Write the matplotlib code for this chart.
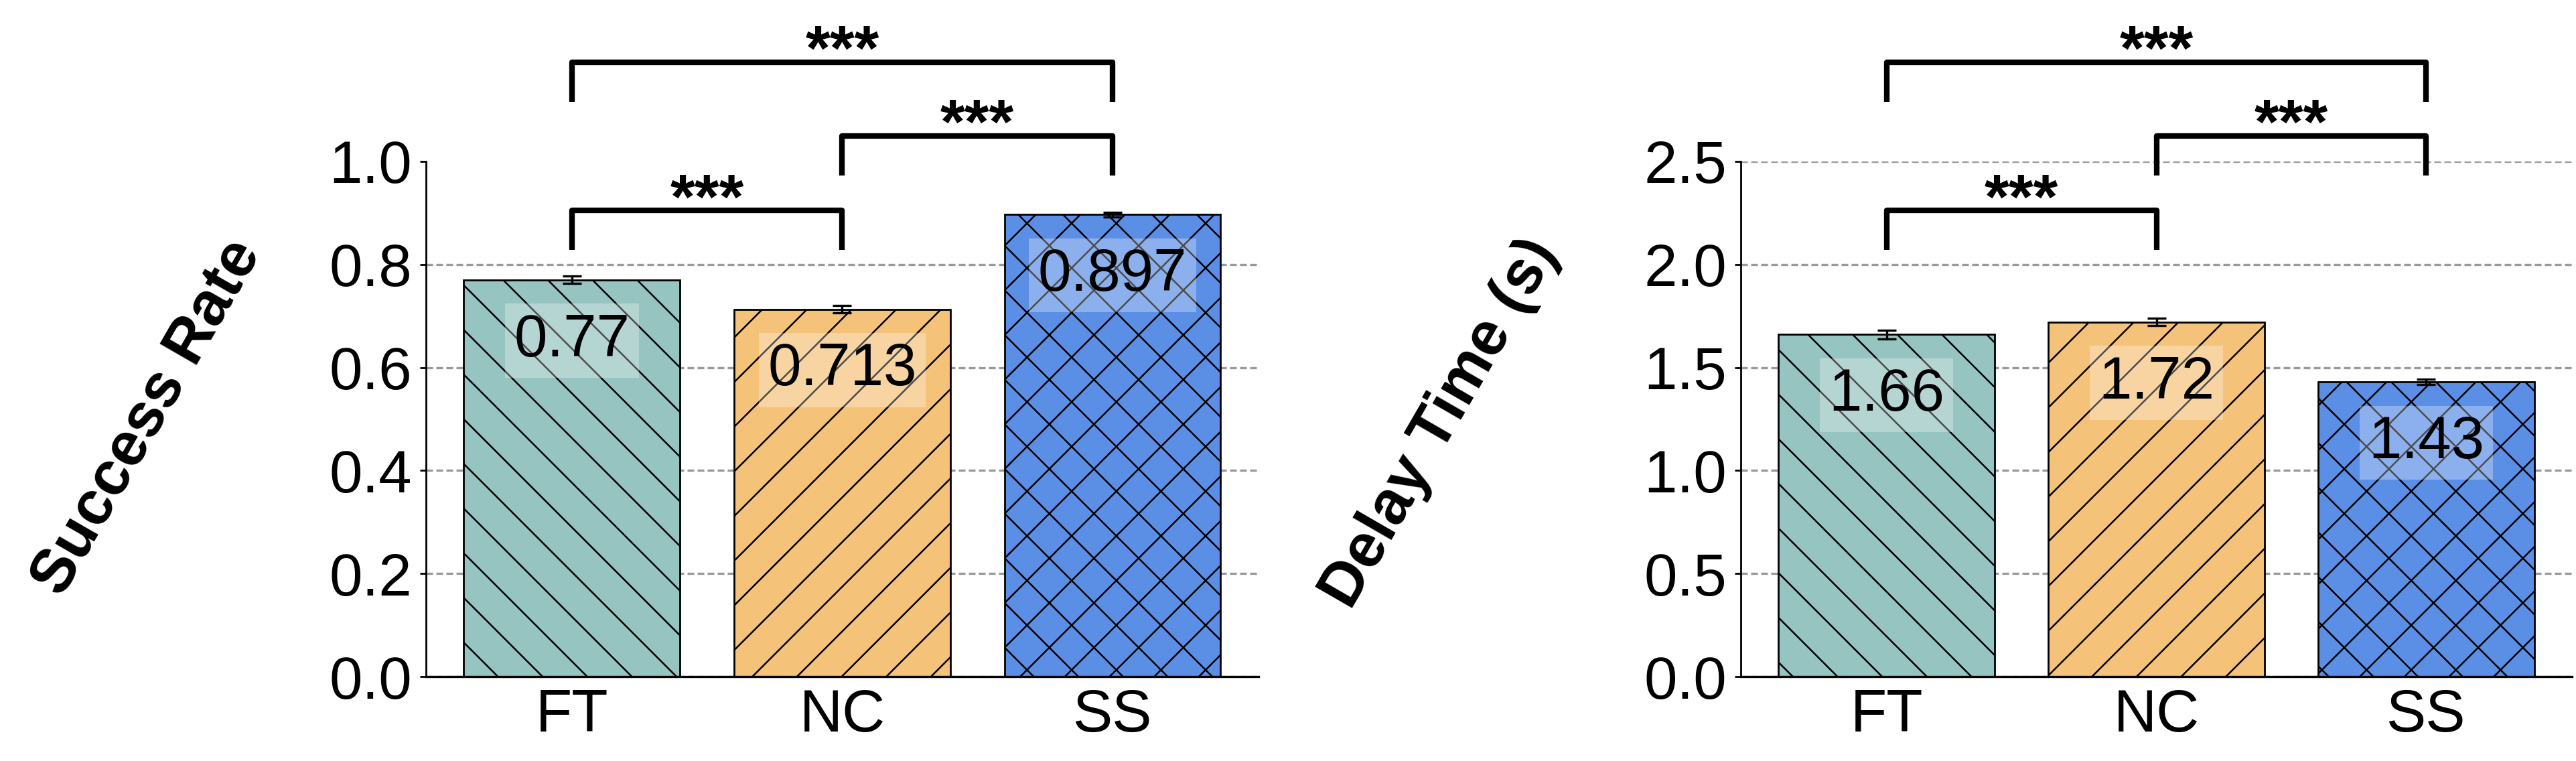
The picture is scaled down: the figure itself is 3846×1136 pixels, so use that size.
import matplotlib
matplotlib.use("Agg")
from matplotlib import pyplot as plt

plt.rcParams['font.family'] = ['Liberation Sans', 'DejaVu Sans']
plt.rcParams['hatch.linewidth'] = 0.45

# datos de las dos graficas
metodos = ["FT", "NC", "SS"]
colores = ["#96C4C0", "#F5C27A", "#5B8FE6"]
tramas = ["\\\\", "//", "xx"]

exito = [0.77, 0.713, 0.897]
exito_err = [0.007, 0.007, 0.0045]
exito_ticks = [0.0, 0.2, 0.4, 0.6, 0.8, 1.0]

retardo = [1.66, 1.72, 1.43]
retardo_err = [0.02, 0.018, 0.014]
retardo_ticks = [0.0, 0.5, 1.0, 1.5, 2.0, 2.5]

# pares comparados y su significancia
pares = [(0, 1), (1, 2), (0, 2)]
marcas = ["***", "***", "***"]
alturas = [0.905, 1.05, 1.193]  # fraccion del maximo del eje


def graficar(ax, valores, errores, ticks, etiquetas):
    ymax = ticks[-1]
    x = range(len(metodos))
    ax.bar(x, valores, width=0.8, color=colores, hatch=tramas,
           edgecolor="black", linewidth=0.5, zorder=2)
    ax.errorbar(x, valores, yerr=errores, fmt="none", ecolor="black",
                elinewidth=0.6, capsize=2.5, capthick=0.6, zorder=3)

    # valor dentro de cada barra
    for i, v in enumerate(valores):
        ax.text(i, v - 0.118 * ymax, etiquetas[i], ha="center", va="center",
                fontsize=16, zorder=5,
                bbox=dict(boxstyle="square,pad=0.15", fc="white", ec="none", alpha=0.3))

    # corchetes de significancia
    for (a, b), m, h in zip(pares, marcas, alturas):
        y = h * ymax
        pie = 0.077 * ymax
        ax.plot([a, a, b, b], [y - pie, y, y, y - pie], color="black",
                lw=1.5, clip_on=False, solid_capstyle="butt")
        ax.text((a + b) / 2, y + 0.017 * ymax, m, ha="center", va="center",
                fontsize=17, fontweight="bold", clip_on=False)

    ax.set_ylim(0, ymax)
    ax.set_yticks(ticks)
    ax.set_xticks(list(x))
    ax.set_xticklabels(metodos)
    ax.tick_params(axis="x", length=0, pad=3, labelsize=16)
    ax.tick_params(axis="y", length=1.6, width=0.5, pad=2.2, labelsize=16)
    ax.yaxis.grid(True, linestyle=(0, (3, 1.5)), color="#999999", lw=0.6, zorder=0)
    ax.set_axisbelow(True)
    ax.spines["top"].set_visible(False)
    ax.spines["right"].set_visible(False)
    ax.spines["left"].set_linewidth(0.5)
    ax.spines["bottom"].set_linewidth(0.6)


fig = plt.figure(figsize=(3846 / 400, 1136 / 400), dpi=400)
ax1 = fig.add_axes([636 / 3846, 1 - 1010 / 1136, (1879 - 636) / 3846, (1010 - 241) / 1136])
ax2 = fig.add_axes([2599 / 3846, 1 - 1010 / 1136, (3840 - 2599) / 3846, (1010 - 241) / 1136])

graficar(ax1, exito, exito_err, exito_ticks, ["0.77", "0.713", "0.897"])
graficar(ax2, retardo, retardo_err, retardo_ticks, ["1.66", "1.72", "1.43"])

# la linea de 1.0 no aparece en la original
ax1.get_ygridlines()[-1].set_visible(False)

fig.text(220 / 3846, 1 - 623 / 1136, "Success Rate", rotation=60, fontsize=16.5,
         fontweight="bold", ha="center", va="center", rotation_mode="anchor")
fig.text(2151 / 3846, 1 - 632 / 1136, "Delay Time (s)", rotation=60, fontsize=16.5,
         fontweight="bold", ha="center", va="center", rotation_mode="anchor")

fig.savefig("out.png", dpi=400)
